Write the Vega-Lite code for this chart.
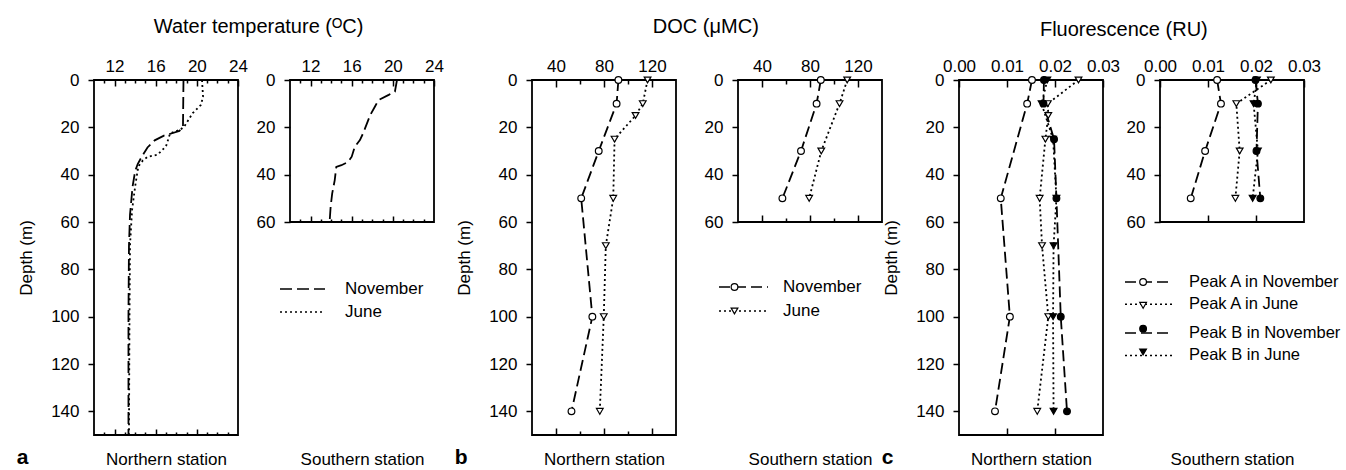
{
  "$schema": "https://vega.github.io/schema/vega-lite/v6.json",
  "background": "white",
  "padding": {"left": 16, "top": 17, "right": 0, "bottom": 0},
  "datasets": {
    "tempN": [
      {"series": "November", "depth": 0, "value": 18.7},
      {"series": "November", "depth": 20, "value": 18.65},
      {"series": "November", "depth": 21.5, "value": 18.3},
      {"series": "November", "depth": 22.5, "value": 17.6},
      {"series": "November", "depth": 23.5, "value": 16.8},
      {"series": "November", "depth": 25.5, "value": 15.9},
      {"series": "November", "depth": 28.5, "value": 15.2},
      {"series": "November", "depth": 32, "value": 14.7},
      {"series": "November", "depth": 35.5, "value": 14.25},
      {"series": "November", "depth": 38.5, "value": 14.0},
      {"series": "November", "depth": 45, "value": 13.75},
      {"series": "November", "depth": 57, "value": 13.5},
      {"series": "November", "depth": 70, "value": 13.4},
      {"series": "November", "depth": 100, "value": 13.35},
      {"series": "November", "depth": 150, "value": 13.35},
      {"series": "June", "depth": 0, "value": 20.5},
      {"series": "June", "depth": 7, "value": 20.6},
      {"series": "June", "depth": 10.5, "value": 20.4},
      {"series": "June", "depth": 14, "value": 19.6},
      {"series": "June", "depth": 19.5, "value": 18.8},
      {"series": "June", "depth": 21, "value": 18.4},
      {"series": "June", "depth": 22.5, "value": 17.4},
      {"series": "June", "depth": 26, "value": 17.15},
      {"series": "June", "depth": 28, "value": 17.0},
      {"series": "June", "depth": 31.5, "value": 16.2},
      {"series": "June", "depth": 32.5, "value": 15.2},
      {"series": "June", "depth": 34, "value": 14.75},
      {"series": "June", "depth": 36, "value": 14.4},
      {"series": "June", "depth": 38, "value": 14.25},
      {"series": "June", "depth": 45, "value": 14.0},
      {"series": "June", "depth": 55, "value": 13.7},
      {"series": "June", "depth": 70, "value": 13.5},
      {"series": "June", "depth": 100, "value": 13.45},
      {"series": "June", "depth": 150, "value": 13.4}
    ],
    "tempS": [
      {"series": "November", "depth": 0, "value": 20.4},
      {"series": "November", "depth": 4.9, "value": 20.2},
      {"series": "November", "depth": 6.3, "value": 19.6},
      {"series": "November", "depth": 8.5, "value": 18.6},
      {"series": "November", "depth": 11.3, "value": 18.25},
      {"series": "November", "depth": 14.8, "value": 17.8},
      {"series": "November", "depth": 17.6, "value": 17.55},
      {"series": "November", "depth": 22.6, "value": 17.1},
      {"series": "November", "depth": 25.4, "value": 16.8},
      {"series": "November", "depth": 28.2, "value": 16.3},
      {"series": "November", "depth": 32.4, "value": 16.0},
      {"series": "November", "depth": 34.6, "value": 15.65},
      {"series": "November", "depth": 36, "value": 15.0},
      {"series": "November", "depth": 36.7, "value": 14.5},
      {"series": "November", "depth": 42.3, "value": 14.35},
      {"series": "November", "depth": 48, "value": 14.1},
      {"series": "November", "depth": 53.6, "value": 13.95},
      {"series": "November", "depth": 60, "value": 13.85}
    ],
    "docN": [
      {"series": "November", "depth": 0, "value": 92},
      {"series": "November", "depth": 10, "value": 90.5},
      {"series": "November", "depth": 30, "value": 75.6},
      {"series": "November", "depth": 50, "value": 61},
      {"series": "November", "depth": 100, "value": 70.3},
      {"series": "November", "depth": 140, "value": 52.9},
      {"series": "June", "depth": 0, "value": 116.3},
      {"series": "June", "depth": 10, "value": 112.3},
      {"series": "June", "depth": 15, "value": 106.3},
      {"series": "June", "depth": 25, "value": 88.8},
      {"series": "June", "depth": 50, "value": 87.7},
      {"series": "June", "depth": 70, "value": 81.5},
      {"series": "June", "depth": 100, "value": 79.8},
      {"series": "June", "depth": 140, "value": 76.5}
    ],
    "docS": [
      {"series": "November", "depth": 0, "value": 89},
      {"series": "November", "depth": 10, "value": 85.5},
      {"series": "November", "depth": 30, "value": 72.5},
      {"series": "November", "depth": 50, "value": 57},
      {"series": "June", "depth": 0, "value": 111},
      {"series": "June", "depth": 10, "value": 104.6},
      {"series": "June", "depth": 30, "value": 89.4},
      {"series": "June", "depth": 50, "value": 79.3}
    ],
    "fluN": [
      {"series": "Peak A in November", "depth": 0, "value": 0.0152},
      {"series": "Peak A in November", "depth": 10, "value": 0.0142},
      {"series": "Peak A in November", "depth": 50, "value": 0.0087},
      {"series": "Peak A in November", "depth": 100, "value": 0.0106},
      {"series": "Peak A in November", "depth": 140, "value": 0.0075},
      {"series": "Peak A in June", "depth": 0, "value": 0.0249},
      {"series": "Peak A in June", "depth": 10, "value": 0.0185},
      {"series": "Peak A in June", "depth": 15, "value": 0.0186},
      {"series": "Peak A in June", "depth": 25, "value": 0.018},
      {"series": "Peak A in June", "depth": 50, "value": 0.0168},
      {"series": "Peak A in June", "depth": 70, "value": 0.0173},
      {"series": "Peak A in June", "depth": 100, "value": 0.0186},
      {"series": "Peak A in June", "depth": 140, "value": 0.0163},
      {"series": "Peak B in November", "depth": 0, "value": 0.0177},
      {"series": "Peak B in November", "depth": 10, "value": 0.0176},
      {"series": "Peak B in November", "depth": 25, "value": 0.0198},
      {"series": "Peak B in November", "depth": 50, "value": 0.0203},
      {"series": "Peak B in November", "depth": 100, "value": 0.0212},
      {"series": "Peak B in November", "depth": 140, "value": 0.0225},
      {"series": "Peak B in June", "depth": 0, "value": 0.0184},
      {"series": "Peak B in June", "depth": 10, "value": 0.0172},
      {"series": "Peak B in June", "depth": 25, "value": 0.0196},
      {"series": "Peak B in June", "depth": 50, "value": 0.0203},
      {"series": "Peak B in June", "depth": 70, "value": 0.0197},
      {"series": "Peak B in June", "depth": 100, "value": 0.0196},
      {"series": "Peak B in June", "depth": 140, "value": 0.0197}
    ],
    "fluS": [
      {"series": "Peak A in November", "depth": 0, "value": 0.0119},
      {"series": "Peak A in November", "depth": 10, "value": 0.0127},
      {"series": "Peak A in November", "depth": 30, "value": 0.0094},
      {"series": "Peak A in November", "depth": 50, "value": 0.0064},
      {"series": "Peak A in June", "depth": 0, "value": 0.0231},
      {"series": "Peak A in June", "depth": 10, "value": 0.0159},
      {"series": "Peak A in June", "depth": 30, "value": 0.0166},
      {"series": "Peak A in June", "depth": 50, "value": 0.0157},
      {"series": "Peak B in November", "depth": 0, "value": 0.0199},
      {"series": "Peak B in November", "depth": 10, "value": 0.0204},
      {"series": "Peak B in November", "depth": 30, "value": 0.0201},
      {"series": "Peak B in November", "depth": 50, "value": 0.0209},
      {"series": "Peak B in June", "depth": 0, "value": 0.0202},
      {"series": "Peak B in June", "depth": 10, "value": 0.0195},
      {"series": "Peak B in June", "depth": 30, "value": 0.0204},
      {"series": "Peak B in June", "depth": 50, "value": 0.0193}
    ]
  },
  "resolve": {"scale": {"x": "independent", "y": "independent", "strokeDash": "independent", "shape": "independent", "fill": "independent"}},
  "spacing": 9,
  "hconcat": [
    {
      "title": {"text": "a", "orient": "bottom", "anchor": "start", "fontWeight": "bold", "fontSize": 21, "offset": -22},
      "resolve": {"scale": {"x": "independent", "y": "independent", "strokeDash": "independent", "shape": "independent", "fill": "independent"}},
      "hconcat": [
        {
          "title": {"text": "Water temperature (ᴼC)", "anchor": "middle", "dx": 28, "offset": 16},
          "resolve": {"scale": {"x": "independent", "y": "independent", "strokeDash": "independent", "shape": "independent", "fill": "independent"}},
          "spacing": 6,
          "hconcat": [
            {
              "width": 144, "height": 355,
              "data": {"name": "tempN"},
              "resolve": {"axis": {"x": "independent"}},
              "layer": [
                {
                  "mark": {"type": "line", "color": "black", "strokeWidth": 1.8},
                  "encoding": {
                    "x": {"field": "value", "type": "quantitative", "scale": {"domain": [10, 24], "nice": false, "zero": false},
                      "axis": {"orient": "top", "title": null, "values": [11, 12, 13, 14, 15, 16, 17, 18, 19, 20, 21, 22, 23, 24], "labelExpr": "datum.value % 4 === 0 ? datum.label : ''", "tickSize": {"condition": {"test": "datum.value % 4 === 0", "value": -6}, "value": -3}, "labelPadding": 11}},
                    "y": {"field": "depth", "type": "quantitative", "scale": {"domain": [0, 150], "reverse": true, "nice": false},
                      "axis": {"title": "Depth (m)", "values": [0, 20, 40, 60, 80, 100, 120, 140], "tickSize": 6, "labelPadding": 9, "titlePadding": 15}},
                    "strokeDash": {"field": "series", "type": "nominal", "scale": {"domain": ["November", "June"], "range": [[12, 5], [2, 3]]}, "legend": null},
                    "order": {"field": "depth", "type": "quantitative"}
                  }
                },
                {
                  "mark": {"type": "point", "opacity": 0},
                  "encoding": {
                    "x": {"field": "value", "type": "quantitative",
                      "axis": {"orient": "bottom", "title": "Northern station", "values": [11, 12, 13, 14, 15, 16, 17, 18, 19, 20, 21, 22, 23], "labels": false, "tickSize": {"condition": {"test": "datum.value % 4 === 0", "value": -6}, "value": -3}, "titlePadding": 16}},
                    "y": {"field": "depth", "type": "quantitative"}
                  }
                }
              ]
            },
            {
              "width": 144, "height": 142,
              "data": {"name": "tempS"},
              "resolve": {"axis": {"x": "independent"}},
              "layer": [
                {
                  "mark": {"type": "line", "color": "black", "strokeWidth": 1.8},
                  "encoding": {
                    "x": {"field": "value", "type": "quantitative", "scale": {"domain": [10, 24], "nice": false, "zero": false},
                      "axis": {"orient": "top", "title": null, "values": [11, 12, 13, 14, 15, 16, 17, 18, 19, 20, 21, 22, 23, 24], "labelExpr": "datum.value % 4 === 0 ? datum.label : ''", "tickSize": {"condition": {"test": "datum.value % 4 === 0", "value": -6}, "value": -3}, "labelPadding": 11}},
                    "y": {"field": "depth", "type": "quantitative", "scale": {"domain": [0, 60], "reverse": true, "nice": false},
                      "axis": {"title": null, "values": [0, 20, 40, 60], "tickSize": 6, "labelPadding": 9}},
                    "strokeDash": {"field": "series", "type": "nominal", "scale": {"domain": ["November", "June"], "range": [[12, 5], [2, 3]]},
                      "legend": {"orient": "none", "legendX": -11, "legendY": 200, "title": null, "symbolType": "stroke", "symbolSize": 2025, "symbolStrokeWidth": 1.6, "symbolStrokeColor": "black", "clipHeight": 18, "rowPadding": 5, "labelOffset": 19}},
                    "order": {"field": "depth", "type": "quantitative"}
                  }
                },
                {
                  "mark": {"type": "point", "opacity": 0},
                  "encoding": {
                    "x": {"field": "value", "type": "quantitative",
                      "axis": {"orient": "bottom", "title": "Southern station", "values": [11, 12, 13, 14, 15, 16, 17, 18, 19, 20, 21, 22, 23], "labels": false, "tickSize": {"condition": {"test": "datum.value % 4 === 0", "value": -6}, "value": -3}, "titlePadding": 229}},
                    "y": {"field": "depth", "type": "quantitative"}
                  }
                }
              ]
            }
          ]
        }
      ]
    },
    {
      "resolve": {"scale": {"x": "independent", "y": "independent", "strokeDash": "independent", "shape": "independent", "fill": "independent"}},
      "spacing": -2,
      "hconcat": [
        {
          "title": {"text": "b", "orient": "bottom", "anchor": "start", "fontWeight": "bold", "fontSize": 21, "offset": -22},
          "resolve": {"scale": {"x": "independent", "y": "independent", "strokeDash": "independent", "shape": "independent", "fill": "independent"}},
          "hconcat": [
            {
              "title": {"text": "DOC (μMC)", "anchor": "middle", "dx": 37, "offset": 16},
              "resolve": {"scale": {"x": "independent", "y": "independent", "strokeDash": "independent", "shape": "independent", "fill": "independent"}},
              "spacing": 26,
              "hconcat": [
                {
                  "width": 144, "height": 355,
                  "data": {"name": "docN"},
                  "resolve": {"axis": {"x": "independent"}},
                  "layer": [
                    {
                      "mark": {"type": "line", "color": "black", "strokeWidth": 1.8},
                      "encoding": {
                        "x": {"field": "value", "type": "quantitative", "scale": {"domain": [20, 140], "nice": false, "zero": false},
                          "axis": {"orient": "top", "title": null, "values": [40, 60, 80, 100, 120], "labelExpr": "datum.value % 40 === 0 ? datum.label : ''", "tickSize": {"condition": {"test": "datum.value % 40 === 0", "value": -7}, "value": -4}, "labelPadding": 12}},
                        "y": {"field": "depth", "type": "quantitative", "scale": {"domain": [0, 150], "reverse": true, "nice": false},
                          "axis": {"title": "Depth (m)", "values": [0, 20, 40, 60, 80, 100, 120, 140], "tickSize": 6, "labelPadding": 9, "titlePadding": 15}},
                        "strokeDash": {"field": "series", "type": "nominal", "scale": {"domain": ["November", "June"], "range": [[11, 5], [2, 3]]}, "legend": null},
                        "order": {"field": "depth", "type": "quantitative"}
                      }
                    },
                    {
                      "mark": {"type": "point", "filled": true, "stroke": "black", "strokeWidth": 1.2, "size": 45, "opacity": 1},
                      "encoding": {
                        "x": {"field": "value", "type": "quantitative",
                          "axis": {"orient": "bottom", "title": "Northern station", "values": [40, 60, 80, 100, 120], "labels": false, "tickSize": {"condition": {"test": "datum.value % 40 === 0", "value": -7}, "value": -4}, "titlePadding": 16}},
                        "y": {"field": "depth", "type": "quantitative"},
                        "shape": {"field": "series", "type": "nominal", "scale": {"domain": ["June", "November"], "range": ["triangle-down", "circle"]}, "legend": null},
                        "fill": {"field": "series", "type": "nominal", "scale": {"domain": ["June", "November"], "range": ["white", "white"]}, "legend": null}
                      }
                    }
                  ]
                },
                {
                  "width": 144, "height": 142,
                  "data": {"name": "docS"},
                  "resolve": {"axis": {"x": "independent"}},
                  "layer": [
                    {
                      "mark": {"type": "line", "color": "black", "strokeWidth": 1.8},
                      "encoding": {
                        "x": {"field": "value", "type": "quantitative", "scale": {"domain": [20, 140], "nice": false, "zero": false},
                          "axis": {"orient": "top", "title": null, "values": [40, 60, 80, 100, 120], "labelExpr": "datum.value % 40 === 0 ? datum.label : ''", "tickSize": {"condition": {"test": "datum.value % 40 === 0", "value": -7}, "value": -4}, "labelPadding": 12}},
                        "y": {"field": "depth", "type": "quantitative", "scale": {"domain": [0, 60], "reverse": true, "nice": false},
                          "axis": {"title": null, "values": [0, 20, 40, 60], "tickSize": 6, "labelPadding": 9}},
                        "strokeDash": {"field": "series", "type": "nominal", "scale": {"domain": ["November", "June"], "range": [[11, 5], [2, 3]]},
                          "legend": {"orient": "none", "legendX": -20, "legendY": 198, "zindex": 0, "title": null, "symbolType": "stroke", "symbolSize": 2401, "symbolStrokeWidth": 1.5, "symbolStrokeColor": "black", "clipHeight": 18, "rowPadding": 6, "labelOffset": 14}},
                        "order": {"field": "depth", "type": "quantitative"}
                      }
                    },
                    {
                      "mark": {"type": "point", "filled": true, "stroke": "black", "strokeWidth": 1.2, "size": 45, "opacity": 1},
                      "encoding": {
                        "x": {"field": "value", "type": "quantitative",
                          "axis": {"orient": "bottom", "title": "Southern station", "values": [40, 60, 80, 100, 120], "labels": false, "tickSize": {"condition": {"test": "datum.value % 40 === 0", "value": -7}, "value": -4}, "titlePadding": 229}},
                        "y": {"field": "depth", "type": "quantitative"},
                        "shape": {"field": "series", "type": "nominal", "scale": {"domain": ["June", "November"], "range": ["triangle-down", "circle"]},
                          "legend": {"orient": "none", "legendX": -12, "legendY": 198, "zindex": 1, "title": null, "values": ["November", "June"], "symbolSize": 45, "symbolStrokeWidth": 1.2, "clipHeight": 18, "rowPadding": 6, "labelExpr": "''",
                            "encode": {"symbols": {"update": {"fill": {"value": "white"}, "stroke": {"value": "black"}, "opacity": {"value": 1}}}}}},
                        "fill": {"field": "series", "type": "nominal", "scale": {"domain": ["June", "November"], "range": ["white", "white"]}, "legend": null}
                      }
                    }
                  ]
                }
              ]
            }
          ]
        },
        {
          "title": {"text": "c", "orient": "bottom", "anchor": "start", "fontWeight": "bold", "fontSize": 21, "offset": -22},
          "resolve": {"scale": {"x": "independent", "y": "independent", "strokeDash": "independent", "shape": "independent", "fill": "independent"}},
          "hconcat": [
            {
              "title": {"text": "Fluorescence (RU)", "anchor": "middle", "dx": 12, "offset": 16},
              "resolve": {"scale": {"x": "independent", "y": "independent", "strokeDash": "independent", "shape": "independent", "fill": "independent"}},
              "spacing": 2,
              "hconcat": [
                {
                  "width": 144, "height": 355,
                  "data": {"name": "fluN"},
                  "resolve": {"axis": {"x": "independent"}},
                  "layer": [
                    {
                      "mark": {"type": "line", "color": "black", "strokeWidth": 1.8},
                      "encoding": {
                        "x": {"field": "value", "type": "quantitative", "scale": {"domain": [0, 0.03], "nice": false},
                          "axis": {"orient": "top", "title": null, "values": [0, 0.01, 0.02, 0.03], "format": ".2f", "tickSize": -7, "labelPadding": 12}},
                        "y": {"field": "depth", "type": "quantitative", "scale": {"domain": [0, 150], "reverse": true, "nice": false},
                          "axis": {"title": "Depth (m)", "values": [0, 20, 40, 60, 80, 100, 120, 140], "tickSize": 6, "labelPadding": 9, "titlePadding": 15}},
                        "strokeDash": {"field": "series", "type": "nominal", "scale": {"domain": ["Peak A in November", "Peak A in June", "Peak B in November", "Peak B in June"], "range": [[11, 5], [2, 3], [11, 5], [2, 3]]}, "legend": null},
                        "order": {"field": "depth", "type": "quantitative"}
                      }
                    },
                    {
                      "mark": {"type": "point", "filled": true, "stroke": "black", "strokeWidth": 1.2, "size": 45, "opacity": 1},
                      "encoding": {
                        "x": {"field": "value", "type": "quantitative",
                          "axis": {"orient": "bottom", "title": "Northern station", "values": [0.01, 0.02], "labels": false, "tickSize": -7, "titlePadding": 16}},
                        "y": {"field": "depth", "type": "quantitative"},
                        "shape": {"field": "series", "type": "nominal", "scale": {"domain": ["Peak B in June", "Peak B in November", "Peak A in June", "Peak A in November"], "range": ["triangle-down", "circle", "triangle-down", "circle"]}, "legend": null},
                        "fill": {"field": "series", "type": "nominal", "scale": {"domain": ["Peak B in June", "Peak B in November", "Peak A in June", "Peak A in November"], "range": ["black", "black", "white", "white"]}, "legend": null}
                      }
                    }
                  ]
                },
                {
                  "width": 144, "height": 142,
                  "data": {"name": "fluS"},
                  "resolve": {"axis": {"x": "independent"}},
                  "layer": [
                    {
                      "mark": {"type": "line", "color": "black", "strokeWidth": 1.8},
                      "encoding": {
                        "x": {"field": "value", "type": "quantitative", "scale": {"domain": [0, 0.03], "nice": false},
                          "axis": {"orient": "top", "title": null, "values": [0, 0.01, 0.02, 0.03], "format": ".2f", "tickSize": -7, "labelPadding": 12}},
                        "y": {"field": "depth", "type": "quantitative", "scale": {"domain": [0, 60], "reverse": true, "nice": false},
                          "axis": {"title": null, "values": [0, 20, 40, 60], "tickSize": 6, "labelPadding": 9}},
                        "strokeDash": {"field": "series", "type": "nominal", "scale": {"domain": ["Peak A in November", "Peak A in June", "Peak B in November", "Peak B in June"], "range": [[11, 5], [2, 3], [11, 5], [2, 3]]},
                          "legend": {"orient": "none", "legendX": -36, "legendY": 193, "zindex": 0, "title": null, "symbolType": "stroke", "symbolSize": 2304, "symbolStrokeWidth": 1.5, "symbolStrokeColor": "black", "clipHeight": 18, "rowPadding": 5.33, "labelOffset": 15, "labelFontSize": 16.5,
                            "encode": {
                              "symbols": {"update": {"y": {"signal": "datum.index === 1 ? 7 : datum.index === 2 ? 12.3 : datum.index === 3 ? 6.5 : 9"}}},
                              "labels": {"update": {"y": {"signal": "datum.index === 1 ? 7 : datum.index === 2 ? 12.3 : datum.index === 3 ? 6.5 : 9"}}}
                            }}},
                        "order": {"field": "depth", "type": "quantitative"}
                      }
                    },
                    {
                      "mark": {"type": "point", "filled": true, "stroke": "black", "strokeWidth": 1.2, "size": 45, "opacity": 1},
                      "encoding": {
                        "x": {"field": "value", "type": "quantitative",
                          "axis": {"orient": "bottom", "title": "Southern station", "values": [0.01, 0.02], "labels": false, "tickSize": -7, "titlePadding": 229}},
                        "y": {"field": "depth", "type": "quantitative"},
                        "shape": {"field": "series", "type": "nominal", "scale": {"domain": ["Peak B in June", "Peak B in November", "Peak A in June", "Peak A in November"], "range": ["triangle-down", "circle", "triangle-down", "circle"]},
                          "legend": {"orient": "none", "legendX": -25.4, "legendY": 193, "zindex": 1, "title": null, "values": ["Peak A in November", "Peak A in June", "Peak B in November", "Peak B in June"], "symbolSize": 45, "symbolStrokeWidth": 1.2, "clipHeight": 18, "rowPadding": 5.33, "labelExpr": "''",
                            "encode": {"symbols": {"update": {
                              "y": {"signal": "datum.index === 1 ? 7 : datum.index === 2 ? 12.3 : datum.index === 3 ? 6.5 : 9"},
                              "fill": {"signal": "indexof(datum.value, 'Peak B') >= 0 ? 'black' : 'white'"},
                              "stroke": {"value": "black"}, "opacity": {"value": 1}}}}}},
                        "fill": {"field": "series", "type": "nominal", "scale": {"domain": ["Peak B in June", "Peak B in November", "Peak A in June", "Peak A in November"], "range": ["black", "black", "white", "white"]}, "legend": null}
                      }
                    }
                  ]
                }
              ]
            }
          ]
        }
      ]
    }
  ],
  "config": {
    "font": "Liberation Sans",
    "view": {"stroke": "black", "strokeWidth": 1.8},
    "axis": {"domain": false, "grid": false, "labelColor": "black", "labelFontSize": 17, "labelFont": "Liberation Sans", "titleFont": "Liberation Sans", "titleFontSize": 17, "titleFontWeight": "normal", "titleColor": "black", "tickColor": "black", "tickWidth": 1.5, "labelFlush": false, "labelOverlap": false},
    "legend": {"labelFont": "Liberation Sans", "labelFontSize": 17, "labelColor": "black"},
    "title": {"font": "Liberation Sans", "fontSize": 20, "fontWeight": "normal", "color": "black"}
  }
}
